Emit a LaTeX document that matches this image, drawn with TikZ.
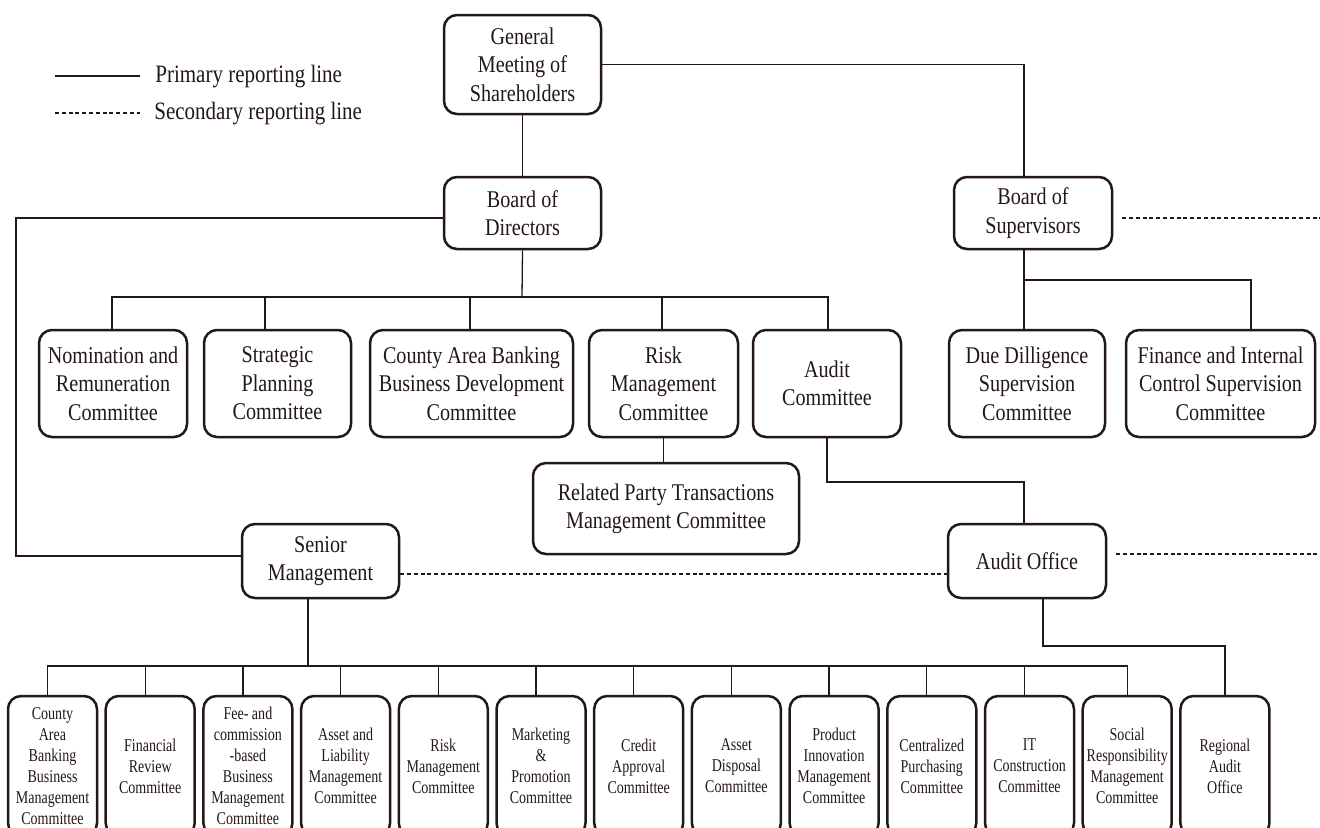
\documentclass[tikz,border=0pt]{standalone}
\usepackage{fontspec}
\setmainfont{Liberation Serif}[FakeStretch=0.84]
\newfontfamily\narrowserif{Liberation Serif}[FakeStretch=0.78]
\definecolor{ink}{HTML}{231815}
\begin{document}
\begin{tikzpicture}[x=0.5pt,y=-0.5pt,
  box/.style={draw=ink, line width=1.25pt, rounded corners=6.5pt, align=center,
    inner sep=0pt, text=ink, font=\fontsize{12}{14.25}\selectfont},
  toprow/.style={box, minimum height=53.5pt},
  smallbox/.style={box, font=\narrowserif\fontsize{9}{10.5}\selectfont,
    minimum width=44.5pt, minimum height=70pt},
  legendtext/.style={anchor=west, inner sep=0pt, text=ink, font=\fontsize{12.5}{14.5}\selectfont},
  link/.style={draw=ink, line width=0.65pt},
  second/.style={link, dash pattern=on 2pt off 1.4pt}]
\useasboundingbox (0,0) rectangle (1320,827);
\clip (0,0) rectangle (1320,827);

% legend
\node[legendtext] (leg1) at (155,77) {Primary reporting line};
\node[legendtext] (leg2) at (154,114) {Secondary reporting line};
\coordinate (l1) at (55,76);
\coordinate (l2) at (55,113);
\draw[link] (l1) -- ([shift={(-7.5pt,0.5pt)}]leg1.west);
\draw[second] (l2) -- ([shift={(-7pt,0.5pt)}]leg2.west);

% governance bodies
\node[box, minimum width=78.5pt, minimum height=49.5pt] (gm) at (522.5,64.5) {General\\Meeting of\\Shareholders};
\node[box, minimum width=78.5pt, minimum height=36pt] (bod) at (522.5,213) {Board of\\Directors};
\node[box, minimum width=79pt, minimum height=36pt] (bos) at (1033,213) {Board of\\Supervisors};

% board committees
\node[toprow, minimum width=74pt] (nom) at (113,383.5) {Nomination and\\Remuneration\\Committee};
\node[toprow, minimum width=73.5pt] (strat) at (277.5,383.5) {Strategic\\Planning\\Committee};
\node[toprow, minimum width=101.5pt] (county) at (471.5,383.5) {County Area Banking\\Business Development\\Committee};
\node[toprow, minimum width=74.5pt] (riskc) at (663.5,383.5) {Risk\\Management\\Committee};
\node[toprow, minimum width=74pt] (auditc) at (827,383.5) {Audit\\Committee};
\node[toprow, minimum width=78pt] (due) at (1027,383.5) {Due Dilligence\\Supervision\\Committee};
\node[toprow, minimum width=94.5pt] (fin) at (1220.5,383.5) {Finance and Internal\\Control Supervision\\Committee};
\node[box, minimum width=133pt, minimum height=45.5pt] (rpt) at (666,508.5) {Related Party Transactions\\Management Committee};

% management and audit
\node[box, minimum width=78.5pt, minimum height=37pt] (sm) at (320.5,561) {Senior\\Management};
\node[box, minimum width=79pt, minimum height=37pt] (ao) at (1027,561) {Audit Office};

% management committees
\foreach \i/\t in {
  0/{County\\Area\\Banking\\Business\\Management\\Committee},
  1/{Financial\\Review\\Committee},
  2/{Fee- and\\commission\\-based\\Business\\Management\\Committee},
  3/{Asset and\\Liability\\Management\\Committee},
  4/{Risk\\Management\\Committee},
  5/{Marketing\\\&\\Promotion\\Committee},
  6/{Credit\\Approval\\Committee},
  7/{Asset\\Disposal\\Committee},
  8/{Product\\Innovation\\Management\\Committee},
  9/{Centralized\\Purchasing\\Committee},
  10/{IT\\Construction\\Committee},
  11/{Social\\Responsibility\\Management\\Committee},
  12/{Regional\\Audit\\Office}}
  \node[smallbox] (b\i) at (52.5+97.7*\i,766) {\t};

% junction points
\coordinate (bA) at (522,297);
\coordinate (bB) at (1024,280);
\coordinate (bC) at (308,666);
\coordinate (bD) at (1043,646);
\coordinate (lft) at (16,400);
\coordinate (aoj) at (1024,482);
\coordinate (rt1) at (1320,218);
\coordinate (rt2) at (1320,554);

% primary lines
\draw[link] (gm.south) -- (bod.north);
\draw[link] (gm.east) -| ([xshift=-4.5pt]bos.north);
\draw[link] ([yshift=-2.5pt]bod.west) -| (lft) |- ([yshift=2.5pt]sm.west);
\draw[link] (bod.south) -- (bA);
\foreach \n/\s in {nom/-0.5, strat/-6.25, county/-0.75, riskc/-0.75, auditc/0.5}
  \draw[link] (bA) -| ([xshift=\s pt]\n.north);
\draw[link] ([xshift=-4.5pt]bos.south) -- (bB);
\foreach \n/\s in {due/-1.5, fin/15.25}
  \draw[link] (bB) -| ([xshift=\s pt]\n.north);
\draw[link] (riskc.south) -- (riskc.south |- rpt.north);
\draw[link] (auditc.south) |- (aoj) -- ([xshift=-1.5pt]ao.north);
\draw[link] ([xshift=-6.25pt]sm.south) -- (bC);
\foreach \i in {0,...,10}
  \draw[link] (bC) -| ([xshift=-2.5pt]b\i.north);
\draw[link] (bC) -| (b11.north);
\draw[link] ([xshift=8pt]ao.south) -- (bD) -| (b12.north);

% secondary lines
\draw[second] ([shift={(4.5pt,-2.5pt)}]bos.east) -- (rt1);
\draw[second] ([shift={(4.5pt,3.5pt)}]ao.east) -- (rt2);
\draw[second] ([yshift=-6.5pt]sm.east) -- ([yshift=-6.5pt]ao.west);
\end{tikzpicture}
\end{document}
